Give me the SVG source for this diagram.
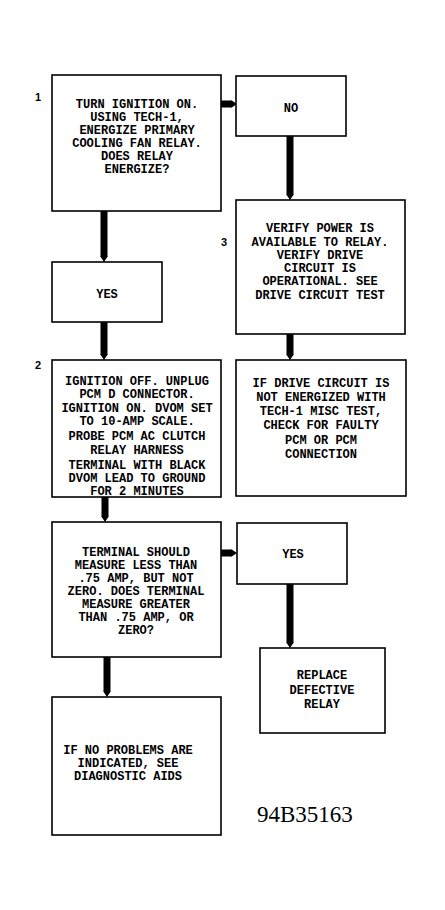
<svg xmlns="http://www.w3.org/2000/svg" width="445" height="910" viewBox="0 0 445 910">
<style>
.box{fill:#fff;stroke:#000;stroke-width:1.6}
.t{font-family:"Liberation Mono","DejaVu Sans Mono",monospace;font-size:12px;font-weight:bold;fill:#000;text-anchor:middle}
.n{font-family:"Liberation Sans",Arial,sans-serif;font-size:11px;font-weight:bold;fill:#000;text-anchor:middle}
.c{stroke:#000;stroke-width:7;fill:none;marker-end:url(#tip)}
.id{font-family:"Liberation Serif","Times New Roman",serif;font-size:23px;fill:#000}
</style>
<defs>
<marker id="tip" viewBox="0 0 6 8" refX="0" refY="4" markerWidth="6" markerHeight="8" orient="auto" markerUnits="userSpaceOnUse">
<path d="M0,0 L6,4 L0,8 Z" fill="#000"/>
</marker>
</defs>
<rect width="445" height="910" fill="#fff"/>
<g id="connectors">
<path class="c" d="M221,104 H231"/>
<path class="c" d="M104,211 V256"/>
<path class="c" d="M104,322 V354"/>
<path class="c" d="M290,136 V194"/>
<path class="c" d="M290,334 V354"/>
<path class="c" d="M105,497 V516"/>
<path class="c" d="M221,553 H231"/>
<path class="c" d="M290,584 V642"/>
<path class="c" d="M107,657 V691"/>
</g>
<g id="step1">
<rect class="box" x="52" y="75" width="169" height="136"/>
<text class="n" x="38" y="101">1</text>
<text class="t" x="137" y="108">TURN IGNITION ON.</text>
<text class="t" x="137" y="121">USING TECH-1,</text>
<text class="t" x="137" y="134">ENERGIZE PRIMARY</text>
<text class="t" x="137" y="147">COOLING FAN RELAY.</text>
<text class="t" x="137" y="160">DOES RELAY</text>
<text class="t" x="137" y="173">ENERGIZE?</text>
</g>
<g id="no1">
<rect class="box" x="236" y="76" width="110" height="60"/>
<text class="t" x="291" y="112">NO</text>
</g>
<g id="yes1">
<rect class="box" x="52" y="262" width="110" height="60"/>
<text class="t" x="107" y="298">YES</text>
</g>
<g id="step3">
<rect class="box" x="236" y="200" width="169" height="134"/>
<text class="n" x="224" y="246">3</text>
<text class="t" x="320" y="232">VERIFY POWER IS</text>
<text class="t" x="320" y="246">AVAILABLE TO RELAY.</text>
<text class="t" x="320" y="259">VERIFY DRIVE</text>
<text class="t" x="320" y="272">CIRCUIT IS</text>
<text class="t" x="320" y="285">OPERATIONAL. SEE</text>
<text class="t" x="320" y="299">DRIVE CIRCUIT TEST</text>
</g>
<g id="step4">
<rect class="box" x="236" y="360" width="170" height="136"/>
<text class="t" x="321" y="387">IF DRIVE CIRCUIT IS</text>
<text class="t" x="321" y="401">NOT ENERGIZED WITH</text>
<text class="t" x="321" y="415">TECH-1 MISC TEST,</text>
<text class="t" x="321" y="429">CHECK FOR FAULTY</text>
<text class="t" x="321" y="444">PCM OR PCM</text>
<text class="t" x="321" y="458">CONNECTION</text>
</g>
<g id="step2">
<rect class="box" x="52" y="360" width="169" height="137"/>
<text class="n" x="38" y="369">2</text>
<text class="t" x="137" y="385">IGNITION OFF. UNPLUG</text>
<text class="t" x="137" y="398">PCM D CONNECTOR.</text>
<text class="t" x="137" y="412">IGNITION ON. DVOM SET</text>
<text class="t" x="137" y="425">TO 10-AMP SCALE.</text>
<text class="t" x="137" y="440">PROBE PCM AC CLUTCH</text>
<text class="t" x="137" y="454">RELAY HARNESS</text>
<text class="t" x="137" y="469">TERMINAL WITH BLACK</text>
<text class="t" x="137" y="482">DVOM LEAD TO GROUND</text>
<text class="t" x="137" y="495">FOR 2 MINUTES</text>
</g>
<g id="step5">
<rect class="box" x="52" y="522" width="169" height="135"/>
<text class="t" x="136" y="556">TERMINAL SHOULD</text>
<text class="t" x="136" y="569">MEASURE LESS THAN</text>
<text class="t" x="136" y="582">.75 AMP, BUT NOT</text>
<text class="t" x="136" y="595">ZERO. DOES TERMINAL</text>
<text class="t" x="136" y="608">MEASURE GREATER</text>
<text class="t" x="136" y="621">THAN .75 AMP, OR</text>
<text class="t" x="136" y="634">ZERO?</text>
</g>
<g id="yes2">
<rect class="box" x="237" y="523" width="110" height="61"/>
<text class="t" x="293" y="558">YES</text>
</g>
<g id="replace">
<rect class="box" x="260" y="648" width="125" height="85"/>
<text class="t" x="322" y="679">REPLACE</text>
<text class="t" x="322" y="694">DEFECTIVE</text>
<text class="t" x="322" y="708">RELAY</text>
</g>
<g id="step6">
<rect class="box" x="52" y="697" width="169" height="138"/>
<text class="t" x="128" y="754">IF NO PROBLEMS ARE</text>
<text class="t" x="128" y="767">INDICATED, SEE</text>
<text class="t" x="128" y="780">DIAGNOSTIC AIDS</text>
</g>
<text class="id" x="257" y="822">94B35163</text>
</svg>
